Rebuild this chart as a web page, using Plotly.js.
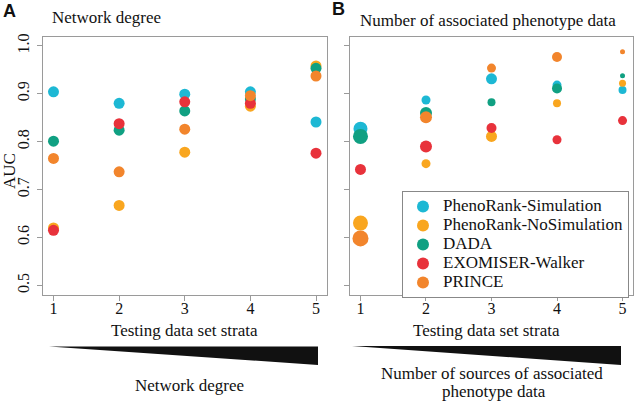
<!DOCTYPE html>
<html>
<head>
<meta charset="utf-8">
<script src="https://cdn.plot.ly/plotly-3.0.1.min.js"></script>
<style>html,body{margin:0;padding:0;background:#fff;}#chart{width:634px;height:401px;}</style>
</head>
<body>
<div id="chart"></div>
<script>
// ---------- data ----------
const strata = [1, 2, 3, 4, 5];
const xTickLabels = ['1', '2', '3', '4', '5'];
const yTickValues = [0.5, 0.6, 0.7, 0.8, 0.9, 1.0];
const yTickLabels = ['0.5', '0.6', '0.7', '0.8', '0.9', '1.0'];
const methods = ['PhenoRank-Simulation', 'PhenoRank-NoSimulation', 'DADA', 'EXOMISER-Walker', 'PRINCE'];

// Panel A: AUC by network degree strata
const simDegree     = [0.904, 0.880, 0.899, 0.904, 0.841];
const noSimDegree   = [0.620, 0.667, 0.778, 0.874, 0.958];
const dadaDegree    = [0.801, 0.824, 0.864, 0.889, 0.953];
const exoDegree     = [0.615, 0.8375, 0.883, 0.880, 0.776];
const princeDegree  = [0.765, 0.737, 0.826, 0.896, 0.937];

// Panel B: AUC by number of associated phenotype data strata
const simPheno      = [0.827, 0.887, 0.931, 0.918, 0.908];
const noSimPheno    = [0.630, 0.754, 0.811, 0.880, 0.922];
const dadaPheno     = [0.811, 0.860, 0.882, 0.911, 0.9375];
const exoPheno      = [0.742, 0.790, 0.8285, 0.804, 0.844];
const princePheno   = [0.598, 0.851, 0.9535, 0.9765, 0.9875];

// Panel B: point weight (drawn as marker diameter)
const simPhenoWeight    = [14, 9, 11, 9, 8];
const noSimPhenoWeight  = [15, 9, 11, 8, 7];
const dadaPhenoWeight   = [15, 12, 8, 10, 5];
const exoPhenoWeight    = [11, 12, 10, 9, 9];
const princePhenoWeight = [16, 12, 9, 10, 5];

// ---------- styling ----------
const colors = ['#1DB8D4', '#F9A61F', '#10A082', '#E8323B', '#F2852C'];
const W = 634, H = 401;
const px = v => v / W;
const py = v => 1 - v / H;
const SERIF = 'Liberation Serif, Times New Roman, serif';
const SANS = 'Liberation Sans, Arial, sans-serif';
const frame = '#9a9a9a';

const degreeSeries = [simDegree, noSimDegree, dadaDegree, exoDegree, princeDegree];
const phenoSeries = [simPheno, noSimPheno, dadaPheno, exoPheno, princePheno];
const phenoWeights = [simPhenoWeight, noSimPhenoWeight, dadaPhenoWeight, exoPhenoWeight, princePhenoWeight];

const traces = [];
methods.forEach((m, i) => {
  traces.push({
    type: 'scatter', mode: 'markers', x: strata, y: degreeSeries[i],
    xaxis: 'x', yaxis: 'y',
    name: '<span style="font-size:17px">' + m + '</span>',
    legendgroup: m, showlegend: true,
    marker: {color: colors[i], size: 11, opacity: 1, line: {width: 0}},
    hoverinfo: 'x+y'
  });
});
methods.forEach((m, i) => {
  traces.push({
    type: 'scatter', mode: 'markers', x: strata, y: phenoSeries[i],
    xaxis: 'x2', yaxis: 'y2',
    name: m, legendgroup: m, showlegend: false,
    marker: {color: colors[i], size: phenoWeights[i], opacity: 1, line: {width: 0}},
    hoverinfo: 'x+y'
  });
});

const xBase = {
  range: [0.84, 5.16], tickvals: strata, ticktext: xTickLabels,
  showline: true, mirror: true, linecolor: frame, linewidth: 1,
  ticks: 'outside', ticklen: 5, tickcolor: frame, tickwidth: 1,
  showgrid: false, zeroline: false, automargin: false,
  ticklabelstandoff: -6,
  tickfont: {family: SERIF, size: 16, color: '#111'}
};
const yBase = {
  range: [0.480, 1.019], tickvals: yTickValues, ticktext: yTickLabels,
  showline: true, mirror: true, linecolor: frame, linewidth: 1,
  ticks: 'outside', ticklen: 5, tickcolor: frame, tickwidth: 1,
  showgrid: false, zeroline: false, automargin: false, tickangle: -90,
  ticklabelstandoff: 2,
  tickfont: {family: SERIF, size: 16, color: '#111'},
  domain: [py(295), py(36.7)]
};

function ann(text, x, y, opts) {
  return Object.assign({
    text: text, xref: 'paper', yref: 'paper', x: px(x), y: py(y),
    xanchor: 'center', yanchor: 'middle', showarrow: false, borderpad: 0,
    font: {family: SERIF, size: 17, color: '#111'}
  }, opts || {});
}

const annotations = [
  ann('<b>A</b>', 2, 11, {xanchor: 'left', font: {family: SANS, size: 18, color: '#111'}}),
  ann('<b>B</b>', 331, 9, {xanchor: 'left', font: {family: SANS, size: 18, color: '#111'}}),
  ann('Network degree', 51, 18, {xanchor: 'left'}),
  ann('Number of associated phenotype data', 359, 20, {xanchor: 'left'}),
  ann('AUC', 9, 171, {textangle: -90}),
  ann('Testing data set strata', 184.5, 330),
  ann('Testing data set strata', 486, 330),
  ann('Network degree', 189, 385),
  ann('Number of sources of associated', 491.7, 373),
  ann('phenotype data', 493.5, 391.5)
];

function wedge(x0, x1, yTop, yBot) {
  return {
    type: 'path', xref: 'paper', yref: 'paper',
    path: 'M ' + px(x0) + ' ' + py(yTop) + ' L ' + px(x1) + ' ' + py(yTop) +
          ' L ' + px(x1) + ' ' + py(yBot) + ' Z',
    fillcolor: '#111', line: {width: 0}
  };
}

const layout = {
  width: W, height: H,
  margin: {l: 0, r: 0, t: 0, b: 0},
  paper_bgcolor: '#fff', plot_bgcolor: '#fff',
  showlegend: true,
  xaxis: Object.assign({}, xBase, {domain: [px(43), px(326.5)], anchor: 'y'}),
  yaxis: Object.assign({}, yBase, {anchor: 'x'}),
  xaxis2: Object.assign({}, xBase, {domain: [px(350), px(633)], anchor: 'y2'}),
  yaxis2: Object.assign({}, yBase, {anchor: 'x2', showticklabels: false}),
  legend: {
    x: px(402), y: py(191), xanchor: 'left', yanchor: 'top',
    bgcolor: '#fff', bordercolor: '#888', borderwidth: 1,
    font: {family: SERIF, size: 12, color: '#111'},
    itemsizing: 'constant', traceorder: 'normal'
  },
  annotations: annotations,
  shapes: [wedge(49, 318, 346.5, 365), wedge(352, 621, 346, 365)]
};

Plotly.newPlot('chart', traces, layout, {staticPlot: true, displayModeBar: false});
</script>
</body>
</html>
